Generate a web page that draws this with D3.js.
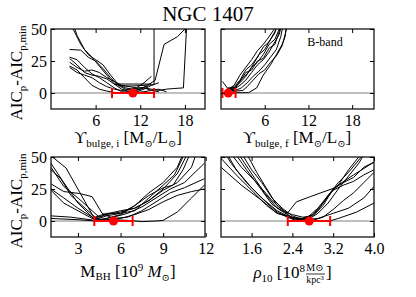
<!DOCTYPE html>
<html>
<head>
<meta charset="utf-8">
<script src="https://cdn.jsdelivr.net/npm/d3@7"></script>
<style>
body { margin: 0; background: #fff; }
text { font-family: 'Liberation Serif', 'DejaVu Serif', serif; fill: #000; }
.tick line { stroke: #000; stroke-width: 1; }
.tick text { font-size: 16px; }
</style>
</head>
<body>
<script>
// y ticks shared by all panels
var aicTicks = [0, 25, 50];

// Upsilon bulge, initial
var upsIniTicks = [6, 12, 18];
var upsIniBest = [11.0, 8.2, 13.85]; // value, low, high
var upsIniCurves = [
    [[2.5,62],[3.5,45],[4.5,34],[5.5,28],[6.5,21],[7.5,14],[8.5,7],[9.5,5.5],[11,5.5],[12.5,6],[13.85,6.5],[13.85,70]],
    [[2.5,34],[4,33.5],[5,28],[6,25],[7,19],[8,12],[9,6],[10,3],[11,2],[12,3],[13,6],[14,10],[15.2,38],[17,44],[18,50],[18.3,60]],
    [[2.5,28],[3.5,26],[4.5,20],[5.5,15],[6.5,12],[7.5,8],[8.5,4],[9.5,1],[10.5,0.5],[11.5,1],[12.5,3],[13.5,6],[14.5,8]],
    [[2.5,27],[3.5,22],[4.5,16],[5.5,14],[6.5,13],[7.5,11],[8.5,7],[9.5,3],[10.5,1],[11.5,0.5],[12.5,1],[13.5,2],[14.5,3],[15.5,1]],
    [[2.5,21],[3.5,18],[4.5,12],[5.5,6],[6.5,3],[7.5,1.5],[8.5,0.5],[9.5,0.3],[10.5,1],[11.5,2],[12.5,4],[13.5,3],[14.5,2],[15.5,3],[16.5,3.5],[17.8,4],[18.3,60]],
    [[2.5,20],[3.5,16],[4.5,14],[5.5,12],[6.5,8],[7.5,5],[8.5,3],[9.5,2],[10.5,2.5],[11.5,4],[12.5,8],[13.5,13]],
    [[2.8,52],[4,38],[5,30],[6,26],[7,22],[8,14],[9,7],[10,4],[11,3],[12,4],[13,5]],
    [[2.5,24],[3.5,20],[4.5,17],[5.5,18],[6.5,16],[7.5,12],[8.5,9],[9.5,6],[10.5,5],[11.5,4],[12.5,4],[13.5,2],[14.5,1]],
    [[8.5,7],[10,7],[12,7],[13.5,7]]
];

// Upsilon bulge, final
var upsFinTicks = [6, 12, 18];
var upsFinBest = [1.0, 0.2, 2.0];
var upsFinCurves = [
    [[0.2,9],[1.0,3],[2,0.3],[3,0.2],[3.8,0.3],[4.9,4],[5.8,14],[6.8,22],[7.6,30],[8.4,38],[8.8,44],[9,55]],
    [[1.0,3],[1.8,6],[2.6,14],[3.4,20],[4.2,26],[5.0,33],[5.8,38],[6.6,44],[7.2,49],[7.5,55]],
    [[1.0,3],[1.8,5],[2.6,10],[3.4,18],[4.2,22],[5.0,28],[5.8,36],[6.6,40],[7.4,47],[7.8,55]],
    [[1.0,3],[1.8,4],[2.6,8],[3.4,13],[4.2,20],[5.0,24],[5.8,30],[6.6,38],[7.4,42],[8,50],[8.2,55]],
    [[1.0,3],[1.8,3],[2.6,6],[3.4,10],[4.2,16],[5.0,22],[5.8,26],[6.6,32],[7.4,40],[8.0,46],[8.4,55]],
    [[1.0,3],[2,2],[2.8,4],[3.6,8],[4.4,13],[5.2,17],[6,22],[6.8,28],[7.6,34],[8.2,44],[8.6,55]],
    [[0.9,4],[1.8,4],[2.6,9],[3.4,16],[4.2,18],[5.0,25],[5.8,27],[6.6,35],[7.4,38],[8.0,48],[8.3,55]],
    [[1.0,3],[2.0,1.5],[3.0,2],[3.6,5],[4.4,10],[5.2,15],[6.0,18],[6.8,24],[7.6,29],[8.4,37],[9,50]],
    [[1.2,2],[2,4],[2.8,11],[3.6,15],[4.4,22],[5.2,30],[6,34],[6.8,42],[7.4,48],[7.8,55]]
];

// black hole mass
var mbhTicks = [3, 6, 9, 12];
var mbhBest = [5.5, 4.15, 6.85];
var mbhCurves = [
    [[1.1,51],[2.16,41.4],[4.16,2],[5,5],[6,7],[7,10],[8,16],[9,25],[10,37],[10.6,50],[10.8,55]],
    [[1.1,45],[2,30],[3,14],[4.2,1],[5,4],[6,6],[7,12],[8,20],[9,26],[9.7,28],[10.4,40],[11,55]],
    [[1.1,42],[2,27],[3,18],[4,8],[4.5,3],[5.2,6],[6,8],[7,10],[8,16],[9,24],[10,30],[11,42],[11.4,55]],
    [[1.1,29],[2,23],[3.1,21.5],[4,19],[4.7,6],[5.5,2],[6.5,3],[7.5,8],[8.5,15],[9.5,22],[10.5,26],[11.9,33]],
    [[1.1,25],[2,18],[3,10],[4,3],[4.5,1],[5.5,3],[6.5,6],[7.5,11],[8.5,18],[9.5,25],[10.5,30],[11.9,45]],
    [[1.1,24],[2,14],[3,8],[4,2],[5,1],[6,2],[7,5],[8,9],[9,15],[10,20],[11,23],[11.9,25]],
    [[1.1,4],[2.5,3],[4.2,0.5],[5.5,1],[6.5,0.5],[7.5,-0.5],[8.5,0],[9,0.5],[10,7],[11,18],[11.9,28]],
    [[1.1,2],[3,1],[4.2,0],[5,2],[6,5],[7,12],[8,22],[9,30],[10,42],[10.5,55]],
    [[1.1,40],[1.8,33],[2.5,20],[3.5,10],[4.2,3],[5,6],[6,6],[7,8],[8,18],[9,28],[9.8,36],[10.4,50],[10.7,55]]
];

// dark matter density
var rhoTicks = [1.6, 2.4, 3.2, 4.0];
var rhoBest = [2.73, 2.31, 3.14];
var rhoCurves = [
    [[1.08,55],[1.3,40],[1.6,26],[1.9,14],[2.1,7],[2.3,3],[2.5,0],[2.7,1],[2.9,6],[3.1,14],[3.3,25],[3.5,35],[3.7,45],[3.85,55]],
    [[1.0,49],[1.3,36],[1.6,24],[1.9,12],[2.1,6],[2.3,4],[2.45,2],[2.7,2],[2.9,8],[3.1,20],[3.3,30],[3.5,38],[3.75,50],[3.85,55]],
    [[1.24,55],[1.5,40],[1.8,24],[2.0,13],[2.2,8],[2.4,5],[2.6,3],[2.8,4],[3.0,12],[3.2,25],[3.4,30],[3.6,34],[3.8,42],[4.0,46]],
    [[1.37,55],[1.6,40],[1.8,30],[2.0,18],[2.2,10],[2.4,4],[2.6,1],[2.8,0.5],[3.0,3],[3.2,9],[3.4,16],[3.6,22],[3.8,30],[4.0,38]],
    [[1.47,55],[1.7,38],[1.9,25],[2.1,12],[2.3,6],[2.48,15],[2.75,19],[3.2,25.5],[3.6,36],[4.0,46]],
    [[1.15,55],[1.4,42],[1.7,30],[2.0,16],[2.2,9],[2.4,2],[2.6,0.5],[2.8,0],[3.0,0],[3.13,0],[3.3,2],[3.66,7],[4.0,14]],
    [[1.3,55],[1.55,40],[1.85,22],[2.1,10],[2.3,5],[2.5,1],[2.7,3],[2.9,10],[3.1,20],[3.3,28],[3.5,40],[3.7,50],[3.8,55]],
    [[1.0,42],[1.4,28],[1.8,16],[2.1,6],[2.35,3],[2.6,2],[2.8,5],[3.0,14],[3.2,24],[3.4,28],[3.6,31],[3.8,36],[4.0,40]],
    [[1.05,55],[1.2,45],[1.5,30],[1.8,18],[2.1,8],[2.4,2],[2.6,1],[2.9,2],[3.2,6],[3.5,10],[3.8,18],[4.0,27]]
];

var w = 416, h = 297;
var svg = d3.select('body').append('svg')
    .attr('width', w)
    .attr('height', h);

var panels = [
    {id: 'p1', x0: 51, x1: 205, y0: 29, y1: 109, dom: [0, 20.7], ticks: upsIniTicks, curves: upsIniCurves, best: upsIniBest, yLabels: true, fmt: d3.format('d')},
    {id: 'p2', x0: 221, x1: 374, y0: 29, y1: 109, dom: [0, 21], ticks: upsFinTicks, curves: upsFinCurves, best: upsFinBest, yLabels: false, fmt: d3.format('d')},
    {id: 'p3', x0: 51, x1: 205, y0: 157, y1: 237, dom: [1.1, 11.95], ticks: mbhTicks, curves: mbhCurves, best: mbhBest, yLabels: true, fmt: d3.format('d')},
    {id: 'p4', x0: 221, x1: 374, y0: 157, y1: 237, dom: [1.0, 4.0], ticks: rhoTicks, curves: rhoCurves, best: rhoBest, yLabels: false, fmt: d3.format('.1f')}
];

panels.forEach(function(p) {
    var x = d3.scaleLinear().domain(p.dom).range([p.x0, p.x1]);
    var y = d3.scaleLinear().domain([-12.5, 50]).range([p.y1, p.y0]);
    var g = svg.append('g');

    g.append('clipPath').attr('id', 'clip-' + p.id)
        .append('rect')
        .attr('x', p.x0).attr('y', p.y0)
        .attr('width', p.x1 - p.x0).attr('height', p.y1 - p.y0);

    var plot = g.append('g').attr('clip-path', 'url(#clip-' + p.id + ')');

    // zero line
    plot.append('line')
        .attr('x1', p.x0).attr('x2', p.x1)
        .attr('y1', y(0)).attr('y2', y(0))
        .style('stroke', '#808080')
        .style('stroke-width', 1);

    var line = d3.line()
        .x(function(d) { return x(d[0]); })
        .y(function(d) { return y(d[1]); });

    plot.selectAll('.curve')
        .data(p.curves)
        .enter()
        .append('path')
        .attr('class', 'curve')
        .attr('d', line)
        .style('fill', 'none')
        .style('stroke', '#000')
        .style('stroke-width', 1);

    // best fit with error bar
    var eb = g.append('g').style('stroke', '#ff0000').style('stroke-width', 2);
    eb.append('line')
        .attr('x1', x(p.best[1])).attr('x2', x(p.best[2]))
        .attr('y1', y(0)).attr('y2', y(0));
    [p.best[1], p.best[2]].forEach(function(v) {
        eb.append('line')
            .attr('x1', x(v)).attr('x2', x(v))
            .attr('y1', y(0) - 5).attr('y2', y(0) + 5);
    });
    g.append('circle')
        .attr('cx', x(p.best[0]))
        .attr('cy', y(0))
        .attr('r', 4.5)
        .style('fill', '#ff0000');

    // axes, ticks pointing inward
    g.append('g')
        .attr('transform', 'translate(0,' + p.y1 + ')')
        .call(d3.axisBottom(x).tickValues(p.ticks).tickFormat(p.fmt).tickSize(-4).tickPadding(6))
        .call(function(a) { a.select('.domain').remove(); });
    g.append('g')
        .attr('transform', 'translate(0,' + p.y0 + ')')
        .call(d3.axisTop(x).tickValues(p.ticks).tickFormat('').tickSize(-4))
        .call(function(a) { a.select('.domain').remove(); });
    g.append('g')
        .attr('transform', 'translate(' + p.x0 + ',0)')
        .call(d3.axisLeft(y).tickValues(aicTicks).tickFormat(p.yLabels ? d3.format('d') : '').tickSize(-4).tickPadding(4))
        .call(function(a) { a.select('.domain').remove(); });
    g.append('g')
        .attr('transform', 'translate(' + p.x1 + ',0)')
        .call(d3.axisRight(y).tickValues(aicTicks).tickFormat('').tickSize(-4))
        .call(function(a) { a.select('.domain').remove(); });

    g.selectAll('.tick text')
        .style('font-family', "'Liberation Serif', 'DejaVu Serif', serif")
        .style('font-size', '16px');

    g.append('rect')
        .attr('x', p.x0).attr('y', p.y0)
        .attr('width', p.x1 - p.x0).attr('height', p.y1 - p.y0)
        .style('fill', 'none')
        .style('stroke', '#000')
        .style('stroke-width', 1.2);
});

// title
svg.append('text')
    .attr('x', 208)
    .attr('y', 21)
    .attr('text-anchor', 'middle')
    .style('font-size', '21px')
    .text('NGC 1407');

svg.append('text')
    .attr('x', 325)
    .attr('y', 46)
    .attr('text-anchor', 'middle')
    .style('font-size', '12px')
    .text('B-band');

// helper for text built from pieces: [string, size, dy, italic]
function richText(sel, parts) {
    parts.forEach(function(q) {
        sel.append('tspan')
            .style('font-size', q[1] + 'px')
            .style('font-style', q[3] ? 'italic' : 'normal')
            .attr('dy', q[2])
            .text(q[0]);
    });
}

// y labels
[73, 201].forEach(function(cy) {
    var t = svg.append('text')
        .attr('transform', 'translate(22,' + cy + ') rotate(-90)')
        .attr('text-anchor', 'middle');
    richText(t, [
        ['AIC', 17, 0], ['p', 11, 4], ['-AIC', 17, -4], ['p,min', 11, 4]
    ]);
});

// x labels
var xl1 = svg.append('text').attr('x', 128).attr('y', 143).attr('text-anchor', 'middle');
richText(xl1, [
    ['\u03D2', 17, 0], ['bulge, i', 11, 4], [' [M', 17, -4], ['\u2299', 10, 4], ['/L', 17, -4], ['\u2299', 10, 4], [']', 17, -4]
]);
var xl2 = svg.append('text').attr('x', 297).attr('y', 143).attr('text-anchor', 'middle');
richText(xl2, [
    ['\u03D2', 17, 0], ['bulge, f', 11, 4], [' [M', 17, -4], ['\u2299', 10, 4], ['/L', 17, -4], ['\u2299', 10, 4], [']', 17, -4]
]);
var xl3 = svg.append('text').attr('x', 128).attr('y', 277).attr('text-anchor', 'middle');
richText(xl3, [
    ['M', 17, 0], ['BH', 11, 3], [' [10', 17, -3], ['9', 11, -6], [' M', 17, 6, true], ['\u2299', 10, 4], [']', 17, -4]
]);
var xl4 = svg.append('text').attr('x', 305).attr('y', 278).attr('text-anchor', 'end');
richText(xl4, [
    ['\u03C1', 17, 0, true], ['10', 11, 4], [' [10', 17, -4], ['8', 11, -6]
]);
svg.append('text').attr('x', 315).attr('y', 271).attr('text-anchor', 'middle')
    .style('font-size', '10px').text('M\u2299');
svg.append('line')
    .attr('x1', 306).attr('x2', 325).attr('y1', 274).attr('y2', 274)
    .style('stroke', '#000').style('stroke-width', 0.8);
svg.append('text').attr('x', 315).attr('y', 283).attr('text-anchor', 'middle')
    .style('font-size', '10px').text('kpc\u00B3');
svg.append('text').attr('x', 326).attr('y', 278).style('font-size', '17px').text(']');
</script>
</body>
</html>
